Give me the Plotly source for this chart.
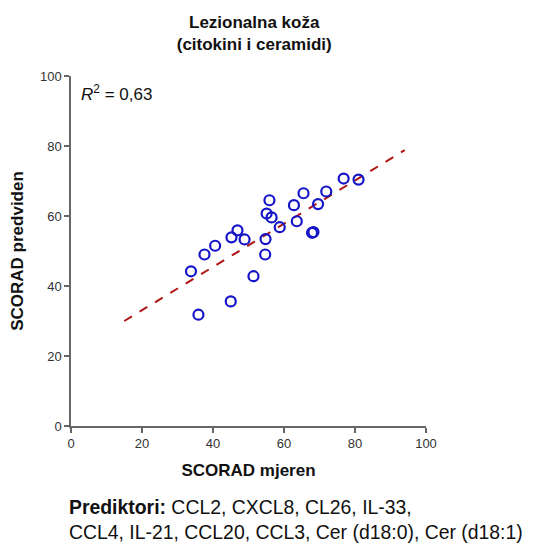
import plotly.graph_objects as go

# Data
scorad_measured = [35.9, 45.0, 33.8, 37.6, 40.6, 45.2, 46.9, 48.9, 51.4, 54.7, 54.8, 55.1,
                   56.5, 55.9, 58.8, 62.8, 63.6, 65.5, 67.9, 68.3, 69.6, 71.9, 76.8, 81.0]
scorad_predicted = [31.8, 35.6, 44.2, 49.0, 51.5, 53.9, 55.9, 53.3, 42.8, 49.0, 53.4, 60.7,
                    59.6, 64.5, 56.8, 63.1, 58.5, 66.5, 55.2, 55.4, 63.4, 67.0, 70.7, 70.4]
fit_x = [15, 94]
fit_y = [30.0, 78.8]
tick_vals = [0, 20, 40, 60, 80, 100]

FONT = "Liberation Sans, Arial, sans-serif"

fig = go.Figure()
fig.add_trace(go.Scatter(
    x=fit_x, y=fit_y, mode="lines",
    line=dict(color="#b01515", width=2, dash="dash"),
    hoverinfo="skip", showlegend=False))
fig.add_trace(go.Scatter(
    x=scorad_measured, y=scorad_predicted, mode="markers",
    marker=dict(symbol="circle-open", size=10, color="#1414c8", line=dict(width=2.2, color="#1414c8")),
    showlegend=False))

axis_common = dict(
    range=[0, 100], tickvals=tick_vals, showgrid=False, zeroline=False,
    showline=True, linecolor="#666666", linewidth=1.5,
    ticks="outside", ticklen=5, tickwidth=1.5, tickcolor="#666666",
    tickfont=dict(family=FONT, size=13, color="#333333"),
)

fig.update_layout(
    width=542, height=544,
    margin=dict(l=71, r=116, t=76, b=118, pad=0),
    plot_bgcolor="white", paper_bgcolor="white",
    font=dict(family=FONT, color="#111111"),
    title=dict(text="<b>Lezionalna koža<br>(citokini i ceramidi)</b>",
               xref="container", x=0.469, xanchor="center",
               yref="container", y=1 - 28 / 544, yanchor="top",
               font=dict(family=FONT, size=17, color="#111111")),
    xaxis=dict(**axis_common,
               title=dict(text="<b>SCORAD mjeren</b>", standoff=14,
                          font=dict(family=FONT, size=17, color="#111111"))),
    yaxis=dict(**axis_common,
               title=dict(text="<b>SCORAD predviden</b>", standoff=12,
                          font=dict(family=FONT, size=17, color="#111111"))),
    annotations=[
        dict(text="<i>R</i><sup>2</sup> = 0,63", xref="paper", yref="paper",
             x=0.022, y=0.99, xanchor="left", yanchor="top", showarrow=False,
             font=dict(family=FONT, size=17, color="#111111")),
        dict(text="<b>Prediktori:</b> CCL2, CXCL8, CL26, IL-33,<br>CCL4, IL-21, CCL20, CCL3, Cer (d18:0), Cer (d18:1)",
             xref="paper", yref="paper", x=-0.012, y=-0.195, xanchor="left", yanchor="top",
             align="left", showarrow=False,
             font=dict(family=FONT, size=19.4, color="#111111")),
    ],
)

fig.write_html("out.html", config={"displayModeBar": False})

# remove the default body margin so the figure sits at the window origin
with open("out.html", "r", encoding="utf-8") as f:
    html = f.read()
html = html.replace("<head>", "<head><style>html,body{margin:0;padding:0;overflow:hidden;}</style>", 1)
with open("out.html", "w", encoding="utf-8") as f:
    f.write(html)
